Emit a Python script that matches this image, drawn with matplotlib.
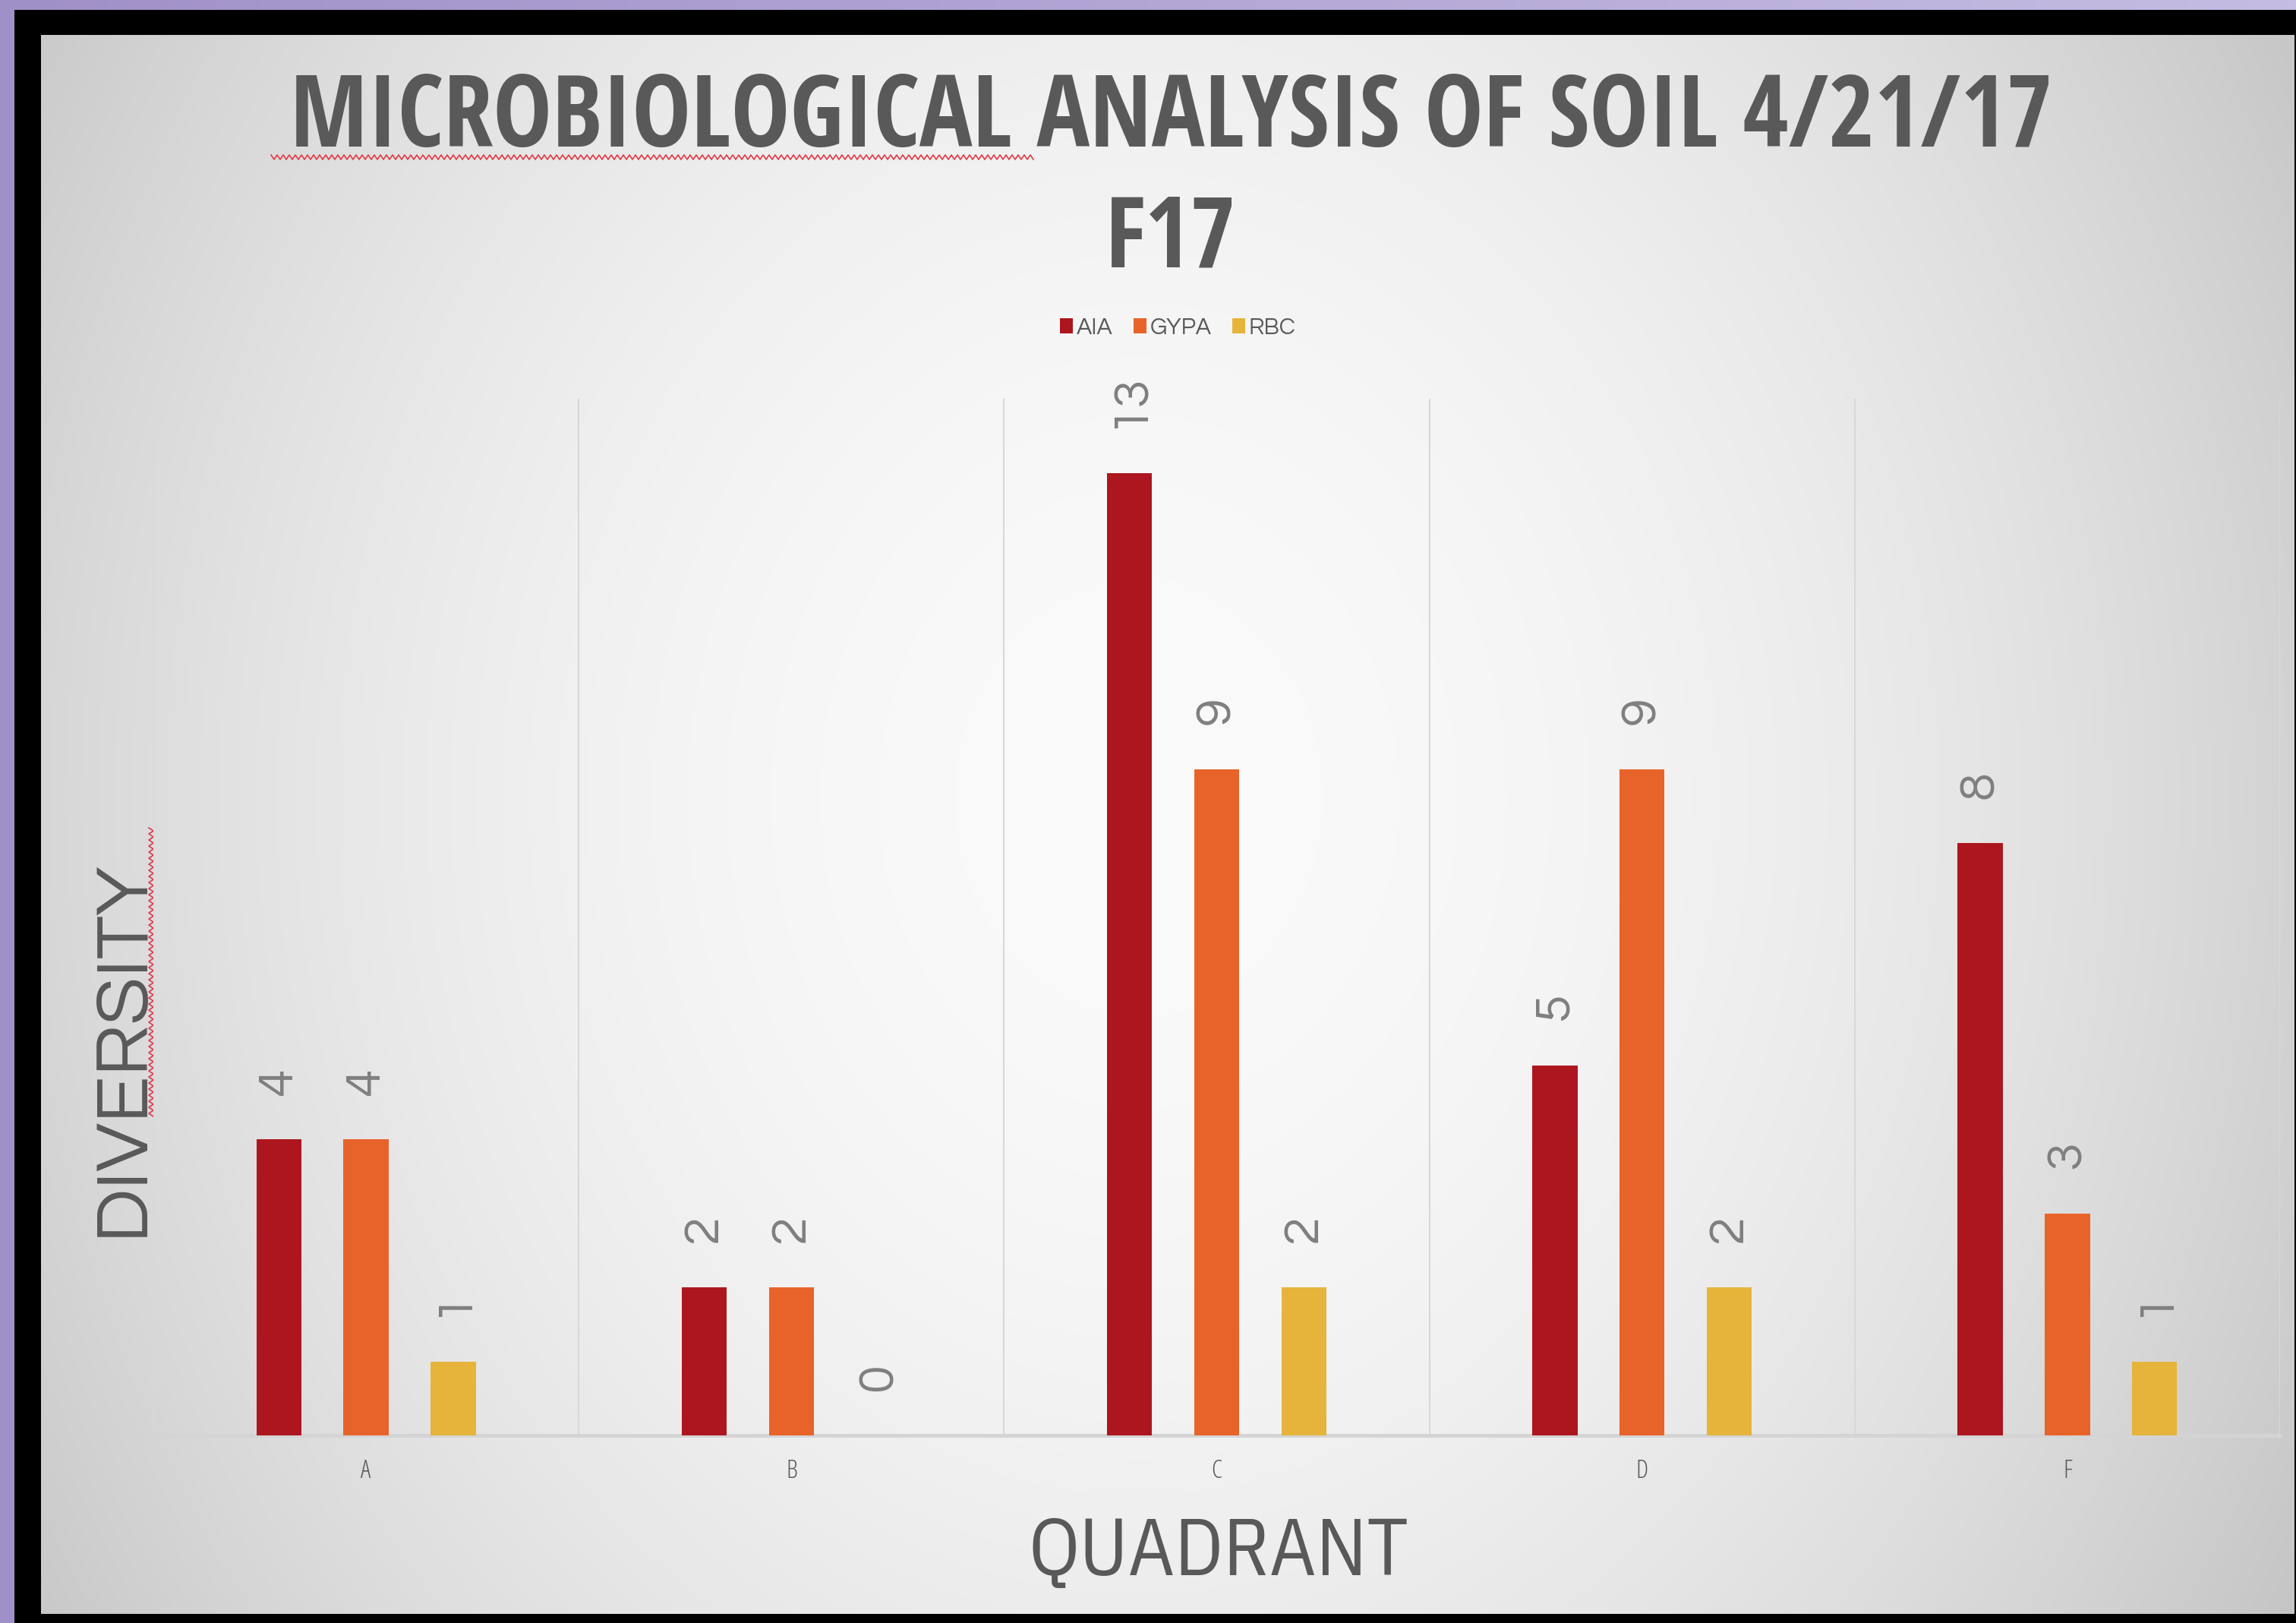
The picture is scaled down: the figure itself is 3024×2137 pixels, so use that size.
import numpy as np
import matplotlib
matplotlib.use("Agg")
import matplotlib.pyplot as plt
from matplotlib.patches import Rectangle, Patch

# ---- data ----
categories = ["A", "B", "C", "D", "F"]
series_names = ["AIA", "GYPA", "RBC"]
aia = [4, 2, 13, 5, 8]
gypa = [4, 2, 9, 9, 3]
rbc = [1, 0, 2, 2, 1]
colors = ["#ad161f", "#e8632a", "#e6b43b"]
title_line1 = "MICROBIOLOGICAL ANALYSIS OF SOIL 4/21/17"
title_line2 = "F17"
x_title = "QUADRANT"
y_title = "DIVERSITY"

W, H = 3024, 2137
fig = plt.figure(figsize=(W / 100, H / 100), dpi=100)
fig.patch.set_facecolor("#a596cc")

TITLE_FONT = dict(family=["Open Sans Condensed", "DejaVu Sans"], fontweight="bold")
COND_LIGHT = dict(family=["Open Sans", "DejaVu Sans"], fontstretch="condensed", fontweight=300)
PLEX_COND = dict(family=["IBM Plex Sans Condensed", "DejaVu Sans"], fontweight="normal")
GEO = ["Questrial", "Didact Gothic", "Lato", "DejaVu Sans"]
GRAY = "#595959"

# ---- background (pixel coordinates) ----
bg = fig.add_axes([0, 0, 1, 1])
bg.axis("off")
pg = np.linspace(0, 1, 256)
c0 = np.array([0xa0, 0x90, 0xc8]) / 255
c1 = np.array([0xc4, 0xbc, 0xe2]) / 255
purple = (c0 + (c1 - c0) * pg[:, None])[None, :, :]
bg.imshow(purple, extent=(0, W, H, 0), aspect="auto", zorder=0)
bg.add_patch(Rectangle((19, 13), W - 19, H - 13, facecolor="black", edgecolor="none", zorder=1))
x0, x1, y0, y1 = 54, 3022, 46, 2125
xx, yy = np.meshgrid(np.linspace(x0, x1, 600), np.linspace(y0, y1, 420))
r2 = ((xx - 1500) / 1750) ** 2 + ((yy - 1050) / 2100) ** 2
v = np.clip(250 - 52 * r2, 0, 255) / 255
img = np.dstack([v, v, v])
bg.imshow(img, extent=(x0, x1, y1, y0), aspect="auto", zorder=2, interpolation="bilinear")
bg.set_xlim(0, W)
bg.set_ylim(H, 0)

# spell-check squiggles
sx = np.arange(357, 1362, 4.0)
sy = 207 + np.where(np.arange(len(sx)) % 2 == 0, -3, 3)
bg.plot(sx, sy, color="#e23a46", lw=1.2, zorder=3)
vy = np.arange(1090, 1474, 4.0)
vx = 199 + np.where(np.arange(len(vy)) % 2 == 0, -3, 3)
bg.plot(vx, vy, color="#e23a46", lw=1.2, zorder=3)

# ---- chart axes ----
left, right, top, base = 202, 3003, 525, 1890
ax = fig.add_axes([left / W, 1 - base / H, (right - left) / W, (base - top) / H])
ax.set_facecolor("none")
ax.set_zorder(5)

xs = np.arange(len(categories))
offsets = [-0.205, 0.0, 0.205]
bw = 0.106
for vals, off, col, name in zip([aia, gypa, rbc], offsets, colors, series_names):
    bars = ax.bar(xs + off, vals, width=bw, color=col, label=name, zorder=3)
    ax.bar_label(bars, labels=[str(v) for v in vals], padding=42, rotation=90,
                 fontsize=48, color="#7f7f7f", family=GEO)

ax.set_xlim(-0.5, len(categories) - 0.5)
ax.set_ylim(0, 14)
ax.set_yticks([])
ax.set_xticks(xs, categories)
ax.set_xticks(np.arange(-0.5, len(categories)), minor=True)
ax.grid(which="minor", axis="x", color="#d8d8d8", lw=1.5, zorder=1)
ax.tick_params(axis="x", which="both", length=0, pad=22, labelsize=24, labelcolor=GRAY)
for t in ax.get_xticklabels():
    t.set_family(COND_LIGHT["family"])
    t.set_fontstretch("condensed")
    t.set_fontweight(300)
for s in ["top", "left", "right"]:
    ax.spines[s].set_visible(False)
ax.spines["bottom"].set_color("#d4d4d4")
ax.spines["bottom"].set_linewidth(3.5)

ax.set_xlabel(x_title, fontsize=76, color=GRAY, **PLEX_COND)
ax.xaxis.set_label_coords(0.501, -0.114)
ax.xaxis.label.set_va("center")
ax.set_ylabel(y_title, fontsize=73, color=GRAY, family=GEO)
ax.yaxis.set_label_coords(-0.0143, 0.374)
ax.yaxis.label.set_va("center")

# ---- titles ----
fig.text(0.510, 1 - 193 / H, title_line1, ha="center", va="baseline", fontsize=94,
         color=GRAY, zorder=10, **TITLE_FONT)
fig.text(0.510, 1 - 352 / H, title_line2, ha="center", va="baseline", fontsize=93,
         color=GRAY, zorder=10, **TITLE_FONT)

# ---- legend ----
handles = [Patch(facecolor=c, edgecolor="none") for c in colors]
leg = fig.legend(handles, series_names, loc="center", bbox_to_anchor=(0.513, 1 - 432 / H),
                 ncol=3, frameon=False, handlelength=0.55, handleheight=0.65,
                 handletextpad=0.15, columnspacing=0.9,
                 prop={"family": GEO, "size": 22})
for t in leg.get_texts():
    t.set_color(GRAY)

fig.savefig("out.png", dpi=100, facecolor=fig.get_facecolor())
